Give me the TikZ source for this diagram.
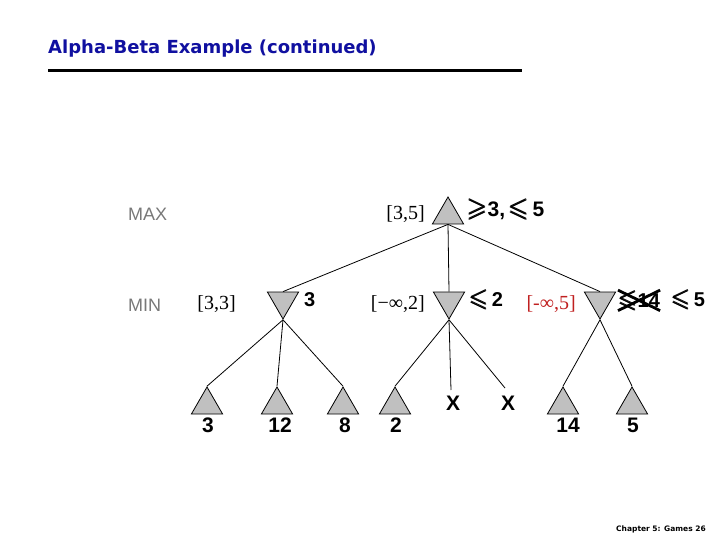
\documentclass[tikz,border=0pt]{standalone}
\usepackage{amsmath,amssymb,graphicx}
\usepackage{fontspec}
\setmainfont{Liberation Serif}
\setsansfont{Liberation Sans}
\newfontfamily\titlefont{DejaVu Sans}
\usetikzlibrary{shapes.geometric}
\definecolor{titleblue}{RGB}{16,16,160}
\definecolor{trigray}{RGB}{192,192,192}
\definecolor{bracketred}{RGB}{192,32,32}
\definecolor{levelgray}{RGB}{120,120,120}
\newcommand{\lsym}{\scalebox{1.25}{\pmb{$\leqslant$}}}
\newcommand{\gsym}{\scalebox{1.25}{\pmb{$\geqslant$}}}
\begin{document}
\begin{tikzpicture}[x=1pt,y=-1pt,
  maxtri/.style={regular polygon, regular polygon sides=3, minimum size=36pt, inner sep=0pt, draw=black, fill=trigray, line width=0.8pt},
  mintri/.style={maxtri, shape border rotate=180},
  edge/.style={line width=0.8pt},
  val/.style={font=\sffamily\bfseries\fontsize{20}{22}\selectfont, inner sep=0pt},
  leafval/.style={font=\sffamily\bfseries\fontsize{21}{24}\selectfont, inner sep=0pt},
  bracket/.style={font=\fontsize{20}{24}\selectfont, inner sep=0pt},
  level/.style={font=\sffamily\fontsize{18}{20}\selectfont, text=levelgray, inner sep=0pt}]
\useasboundingbox (0,0) rectangle (720,540);

% title and rule
\node[anchor=base west, font=\titlefont\bfseries\fontsize{18}{22}\selectfont, text=titleblue, inner sep=0pt] (title) at (48,54) {Alpha-Beta Example (continued)};
\coordinate (ruleL) at (48,71);
\coordinate (ruleR) at (522,71);
\draw[line width=3pt] (ruleL) -- (ruleR);

% level labels
\node[level, anchor=west] (maxlab) at (128,214) {MAX};
\node[level, anchor=west] (minlab) at (128,305) {MIN};

% tree nodes
\node[maxtri] (root) at (448,215) {};
\node[mintri] (m1) at (283,301) {};
\node[mintri] (m2) at (449,301) {};
\node[mintri] (m3) at (600,301) {};
\node[maxtri] (l1) at (207,405) {};
\node[maxtri] (l2) at (277,405) {};
\node[maxtri] (l3) at (343,405) {};
\node[maxtri] (l4) at (395,405) {};
\node[maxtri] (l5) at (563,405) {};
\node[maxtri] (l6) at (632,405) {};
\coordinate (x1) at (451,390);
\coordinate (x2) at (505,388);

% edges
\draw[edge] (root.south) -- (m1.north);
\draw[edge] (root.south) -- (m2.north);
\draw[edge] (root.south) -- (m3.north);
\draw[edge] (m1.corner 1) -- (l1.corner 1);
\draw[edge] (m1.corner 1) -- (l2.corner 1);
\draw[edge] (m1.corner 1) -- (l3.corner 1);
\draw[edge] (m2.corner 1) -- (l4.corner 1);
\draw[edge] (m2.corner 1) -- (x1);
\draw[edge] (m2.corner 1) -- (x2);
\draw[edge] (m3.corner 1) -- (l5.corner 1);
\draw[edge] (m3.corner 1) -- (l6.corner 1);

% leaf values
\node[leafval] (v1) at (208,425) {3};
\node[leafval] (v2) at (280,425) {12};
\node[leafval] (v3) at (345,425) {8};
\node[leafval] (v4) at (396,425) {2};
\node[leafval] (v5) at (568,425) {14};
\node[leafval] (v6) at (633,425) {5};
\node[leafval] (xa) at (453,403) {X};
\node[leafval] (xb) at (508,403) {X};

% node values
\node[val, anchor=base west, font=\sffamily\bfseries\fontsize{21}{22}\selectfont] (rv) at (467,216) {\gsym3,\,\lsym\,5};
\node[val, anchor=base west] (m1v) at (304,306) {3};
\node[val, anchor=base west] (m2v) at (469,306) {\lsym\,2};
\node[val, anchor=base west] (m3old) at (618,307) {\lsym14};
\draw[line width=2.8pt] (m3old.south west) -- (m3old.north east);
\draw[line width=2.8pt] (m3old.north west) -- (m3old.south east);
\node[val, anchor=base west] (m3v) at (671,306) {\lsym\,5};

% bracket intervals
\node[bracket, anchor=base east] (b0) at (425,220) {[3,5]};
\node[bracket, anchor=base east] (b1) at (236,309) {[3,3]};
\node[bracket, anchor=base east] (b2) at (425,309) {[−∞,2]};
\node[bracket, anchor=base east, text=bracketred] (b3) at (576,309) {[-∞,5]};

% footer
\node[anchor=base east, font=\titlefont\bfseries\fontsize{7.5}{9}\selectfont, inner sep=0pt] (foot) at (706,531) {Chapter 5: Games 26};
\end{tikzpicture}
\end{document}
